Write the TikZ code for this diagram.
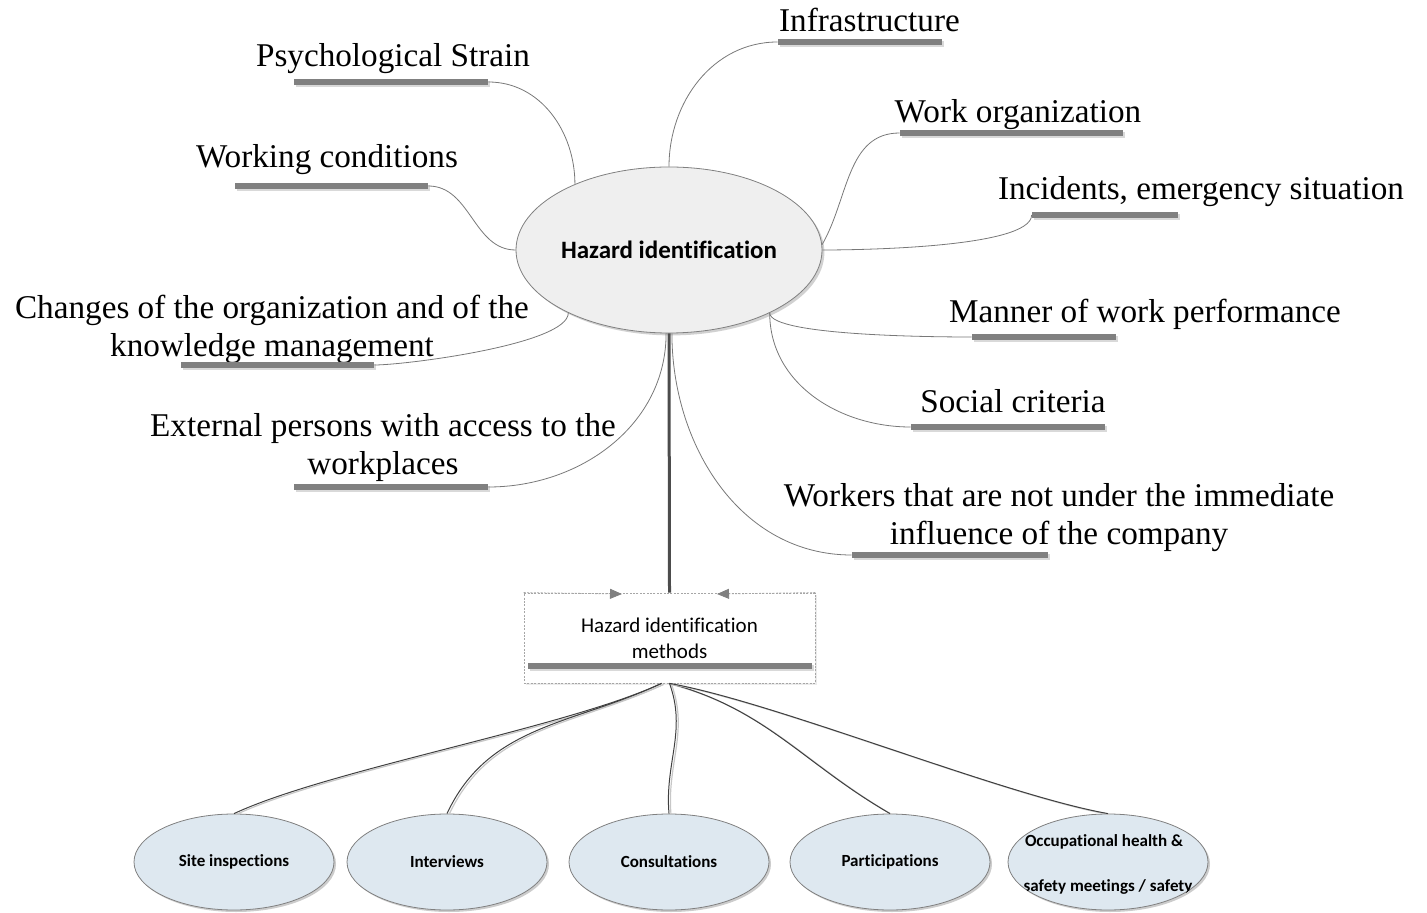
\documentclass[tikz,border=0pt]{standalone}
\usepackage{fontspec}
\setmainfont{Liberation Serif}
\newfontfamily\calibri{Carlito}[Ligatures=NoCommon]
\usepackage{xcolor}
\usetikzlibrary{shapes.geometric,shadows,arrows.meta}

\definecolor{bargray}{RGB}{128,128,128}
\definecolor{twiggray}{RGB}{120,120,120}
\definecolor{hubfill}{RGB}{239,239,239}
\definecolor{methodfill}{RGB}{222,232,240}

\begin{document}
\begin{tikzpicture}[x=0.5pt, y=-0.5pt,
		topic/.style={font=\fontsize{16.6}{19}\selectfont, inner sep=0pt, align=center},
		bar/.style={fill=bargray, minimum height=3pt, inner sep=0pt, drop shadow={shadow xshift=1.2pt, shadow yshift=-1.2pt, fill=black!15, opacity=1}},
		twig/.style={draw=twiggray, line width=0.4pt},
		method/.style={ellipse, draw=gray, fill=methodfill, minimum width=100pt, minimum height=48pt, inner sep=0pt, font=\calibri\bfseries\fontsize{8.5}{10}\selectfont, drop shadow={shadow xshift=1pt, shadow yshift=-1pt, fill=black!20, opacity=1}},
		fan/.style={draw=black!75, line width=0.5pt, preaction={draw=black!22, line width=0.6pt, transform canvas={shift={(1pt,-0.5pt)}}}},
		frame/.style={draw=black!35, dash pattern=on 1pt off 0.7pt, line width=0.4pt}
	]
	\useasboundingbox (0,0) rectangle (1427,913);
	% centre
	\node[ellipse, draw=gray, fill=hubfill, minimum width=153pt, minimum height=83pt, inner sep=0pt, font=\calibri\bfseries\fontsize{12.5}{15}\selectfont, drop shadow={shadow xshift=1.2pt, shadow yshift=-1.2pt, fill=black!18, opacity=1}] (hazard) at (669,250) {Hazard identification};
	% left branches
	\node[topic, anchor=base] (psyText) at (393,67) {Psychological Strain};
	\node[bar, minimum width=97pt] (psyBar) at (391,82) {};
	\node[topic, anchor=base] (wcText) at (327,168) {Working conditions};
	\node[bar, minimum width=96.5pt] (wcBar) at (331.5,186) {};
	\node[topic] (chgText) at (272,329) {Changes of the organization and of the\\knowledge management};
	\node[bar, minimum width=96.5pt] (chgBar) at (277.5,365) {};
	\node[topic] (extText) at (383,448) {External persons with access to the\\workplaces};
	\node[bar, minimum width=97pt] (extBar) at (391,487) {};
	% right branches
	\node[topic, anchor=base] (infText) at (869.5,32) {Infrastructure};
	\node[bar, minimum width=82pt] (infBar) at (860,42) {};
	\node[topic, anchor=base] (orgText) at (1018,123) {Work organization};
	\node[bar, minimum width=111.5pt] (orgBar) at (1011.5,133) {};
	\node[topic, anchor=base] (incText) at (1201,200) {Incidents, emergency situation};
	\node[bar, minimum width=73pt] (incBar) at (1105,215) {};
	\node[topic, anchor=base] (manText) at (1145,323) {Manner of work performance};
	\node[bar, minimum width=72pt] (manBar) at (1044,337) {};
	\node[topic, anchor=base] (socText) at (1013,413) {Social criteria};
	\node[bar, minimum width=97pt] (socBar) at (1008,427) {};
	\node[topic] (wrkText) at (1059,518) {Workers that are not under the immediate\\influence of the company};
	\node[bar, minimum width=98pt] (wrkBar) at (950,555) {};
	% branch lines
	\draw[twig] (psyBar.east) to[out=0,in=90] (hazard.145);
	\draw[twig] (wcBar.east) to[out=0,in=180] (hazard.west);
	\draw[twig] (chgBar.east) to[out=0,in=270,looseness=0.4] (hazard.212);
	\draw[twig] (extBar.east) to[out=0,in=270] (hazard.268);
	\draw[twig] (infBar.west) to[out=180,in=90] (hazard.north);
	\draw[twig] (orgBar.west) to[out=180,in=60] (hazard.2);
	\draw[twig] (incBar.west) to[out=270,in=0,looseness=0.4] (hazard.east);
	\draw[twig] (manBar.west) to[out=180,in=270,looseness=0.3] (hazard.328);
	\draw[twig] (socBar.west) to[out=180,in=270] (hazard.328);
	\draw[twig] (wrkBar.west) to[out=180,in=270] (hazard.272);
	% methods
	\node[frame, minimum width=145.5pt, minimum height=45pt, inner sep=0pt, align=center, font=\calibri\fontsize{10.5}{13}\selectfont, drop shadow={shadow xshift=1pt, shadow yshift=-1pt, fill=black!8, opacity=1}, fill=white] (methods) at (669.5,638) {Hazard identification\\methods};
	\node[bar, minimum width=142pt] (methBar) at (670,666) {};
	\draw[black!70, line width=1.5pt] (hazard.south) -- (methods.north);
	\coordinate (arrL) at (622,594);
	\coordinate (arrR) at (717,594);
	\draw[frame, -{Triangle[length=6pt,width=5pt,color=gray,fill=gray]}] (methods.north west) -- (arrL);
	\draw[frame, -{Triangle[length=6pt,width=5pt,color=gray,fill=gray]}] (methods.north east) -- (arrR);
	% method ellipses
	\foreach \name/\x/\txt in {site/234/Site inspections, inter/447/Interviews, consult/669/Consultations, partic/890/Participations}
		\node[method] (\name) at (\x,862) {\txt};
	\node[method] (occ) at (1108,862) {};
	\begin{scope}
		\clip (occ.center) ellipse (50pt and 24pt);
		\node[font=\calibri\bfseries\fontsize{8.5}{10}\selectfont, inner sep=0pt] (occTop) at (1104,842) {Occupational health \&};
		\node[font=\calibri\bfseries\fontsize{8.5}{10}\selectfont, inner sep=0pt] (occBot) at (1108,887) {safety meetings / safety};
	\end{scope}
	% fan lines
	\draw[fan] (methods.260) to[out=205,in=25,looseness=0.6] (site.north);
	\draw[fan] (methods.260) to[out=205,in=65] (inter.north);
	\draw[fan] (methods.south) to[out=290,in=95] (consult.north);
	\draw[fan] (methods.south) to[out=-15,in=150] (partic.north);
	\draw[fan] (methods.south) to[out=-10,in=170,looseness=0.6] (occ.north);
\end{tikzpicture}
\end{document}
